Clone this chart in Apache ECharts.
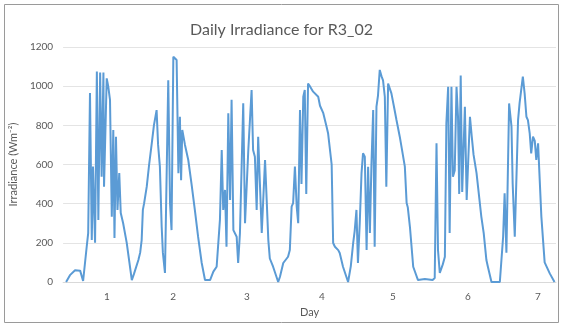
<!DOCTYPE html>
<html>
<head>
<meta charset="utf-8">
<script src="https://cdn.jsdelivr.net/npm/echarts@6/dist/echarts.min.js"></script>
<style>
  html, body { margin: 0; padding: 0; background: #fff; }
  #chart { width: 563px; height: 326px; }
</style>
</head>
<body>
<div id="chart"></div>
<script>
// time in hours from start of record, irradiance in W/m2
const hours = [
  1.0, 2.3, 4.0, 5.7, 6.7, 7.9, 8.4, 9.0, 9.6, 10.0, 10.7, 11.3, 11.8, 12.4, 12.9, 13.5, 13.7,
  14.6, 15.1, 15.7, 16.3, 16.8, 17.2, 17.7, 18.2, 18.8, 19.3, 20.1, 21.3, 22.1, 23.0, 23.7,
  25.2, 25.8, 26.3, 26.7, 27.1, 28.0, 28.8, 29.7, 30.4, 31.3, 31.8, 32.4, 33.0, 33.4, 34.1,
  35.2, 35.8, 36.3, 36.9, 37.5, 38.0, 38.6, 39.1, 39.5, 39.9, 40.8, 41.9, 43.0, 44.1, 45.2,
  46.4, 47.5, 49.2, 50.3, 51.4, 52.5, 53.1, 53.6, 54.2, 54.7, 55.3, 55.9, 56.4, 57.0, 58.1,
  58.6, 59.2, 60.3, 60.9, 62.0, 63.1, 63.6, 64.2, 64.8, 65.3, 66.5, 67.6, 68.7, 69.2, 70.3,
  72.0, 72.6, 73.7, 75.3, 75.9, 76.5, 77.0, 77.6, 78.2, 78.7, 79.3, 79.8, 80.4, 80.9, 81.4,
  82.0, 82.6, 83.7, 85.4, 86.0, 87.1, 88.2, 88.7, 89.9, 90.4, 91.0, 92.1, 92.6, 93.7, 95.4,
  96.3, 97.1, 97.6, 98.2, 98.7, 99.3, 99.9, 100.4, 101.0, 101.6, 102.1, 102.7, 103.2, 103.8,
  104.3, 104.9, 105.4, 106.0, 106.6, 107.1, 107.7, 108.2, 108.8, 109.9, 110.7, 111.6, 112.7,
  113.4, 114.4, 115.0, 115.4, 116.1, 117.2, 118.8, 121.1, 123.7, 124.4, 125.0, 125.5, 126.1,
  127.1, 127.8, 128.3, 128.9, 129.4, 130.0, 130.5, 131.1, 131.7, 132.2, 132.6, 133.1, 133.6,
  134.5, 135.1, 136.2, 136.8, 137.4, 138.4, 140.0, 140.8, 141.7, 142.2, 143.4, 146.2, 147.3,
  147.8, 148.4, 149.3, 150.1, 150.5, 151.2, 152.3, 152.8, 153.9, 154.5, 155.1, 155.6, 156.2,
  156.7, 157.3, 157.9, 158.4, 159.0, 160.1, 161.2, 162.9, 164.5
];
const irradiance = [
  0, 35, 60, 58, 5, 180, 250, 965, 215, 590, 200, 1075, 317, 1070, 538, 1070, 487,
  1040, 1000, 930, 333, 776, 225, 742, 368, 556, 352, 300, 200, 110, 10, 40,
  112, 150, 214, 368, 400, 487, 600, 710, 800, 878, 700, 589, 282, 150, 46,
  1030, 400, 265, 1150, 1160, 1134, 556, 844, 520, 776, 700, 623, 500, 368, 230,
  97, 10, 10, 53, 78, 317, 674, 368, 470, 180, 862, 419, 930, 265, 231,
  97, 250, 913, 300, 674, 980, 674, 640, 368, 742, 250, 623, 214, 120, 78,
  0, 27, 97, 129, 163, 385, 403, 589, 385, 300, 878, 500, 946, 980, 450,
  1013, 1000, 972, 946, 900, 862, 793, 760, 600, 199, 180, 163, 148, 78, 0,
  80, 199, 260, 368, 97, 300, 556, 657, 640, 163, 589, 250, 589, 878,
  180, 895, 950, 1083, 1050, 1030, 946, 487, 1013, 963, 900, 827, 742,
  680, 589, 403, 380, 282, 78, 10, 15, 10, 20, 708, 163, 46,
  90, 129, 810, 997, 250, 997, 538, 570, 997, 844, 450, 1055, 460,
  895, 419, 844, 742, 650, 556, 334, 250, 112, 78, 0, 0, 231,
  453, 150, 912, 793, 500, 231, 827, 912, 1049, 963, 844, 827, 759,
  657, 742, 720, 623, 708, 334, 100, 44, 0
];
const dayLabels = ['1', '2', '3', '4', '5', '6', '7'];
const dayLabelHours = [14.7, 36.8, 61.5, 86.6, 110.4, 135.5, 158.9];

const points = hours.map((h, i) => [h, irradiance[i]]);
const textColor = '#595959';
const font = 'Lato, "Open Sans", sans-serif';

const chart = echarts.init(document.getElementById('chart'));
chart.setOption({
  animation: false,
  title: {
    text: 'Daily Irradiance for R3_02',
    left: 'center',
    top: 17,
    textStyle: { color: textColor, fontSize: 16, fontWeight: 'normal', fontFamily: font }
  },
  graphic: [{
    type: 'rect',
    shape: { x: 4.5, y: 4.5, width: 554, height: 318 },
    style: { fill: 'none', stroke: '#9a9a9a', lineWidth: 1 },
    silent: true
  }],
  grid: { left: 63, right: 7, top: 47, bottom: 44 },
  xAxis: {
    type: 'value',
    min: 0,
    max: 165,
    name: 'Day',
    nameLocation: 'middle',
    nameGap: 22,
    nameTextStyle: { color: textColor, fontSize: 11, fontFamily: font },
    axisLine: { show: true, lineStyle: { color: '#d9d9d9' } },
    axisTick: { show: false },
    splitLine: { show: false },
    axisLabel: {
      customValues: dayLabelHours,
      formatter: (v) => dayLabels[dayLabelHours.indexOf(v)] || '',
      color: textColor,
      fontSize: 10,
      fontFamily: font,
      margin: 10
    }
  },
  yAxis: {
    type: 'value',
    min: 0,
    max: 1200,
    interval: 200,
    name: 'Irradiance (Wm⁻²)',
    nameLocation: 'middle',
    nameGap: 38,
    nameTextStyle: { color: textColor, fontSize: 11, fontFamily: font },
    axisLine: { show: false },
    axisTick: { show: false },
    splitLine: { lineStyle: { color: '#e4e4e4' } },
    axisLabel: {
      formatter: (v) => String(v),
      color: textColor,
      fontSize: 10,
      fontFamily: font,
      margin: 10
    }
  },
  series: [{
    type: 'line',
    data: points,
    showSymbol: false,
    lineStyle: { color: '#5b9bd5', width: 2 },
    itemStyle: { color: '#5b9bd5' }
  }]
});
</script>
</body>
</html>
